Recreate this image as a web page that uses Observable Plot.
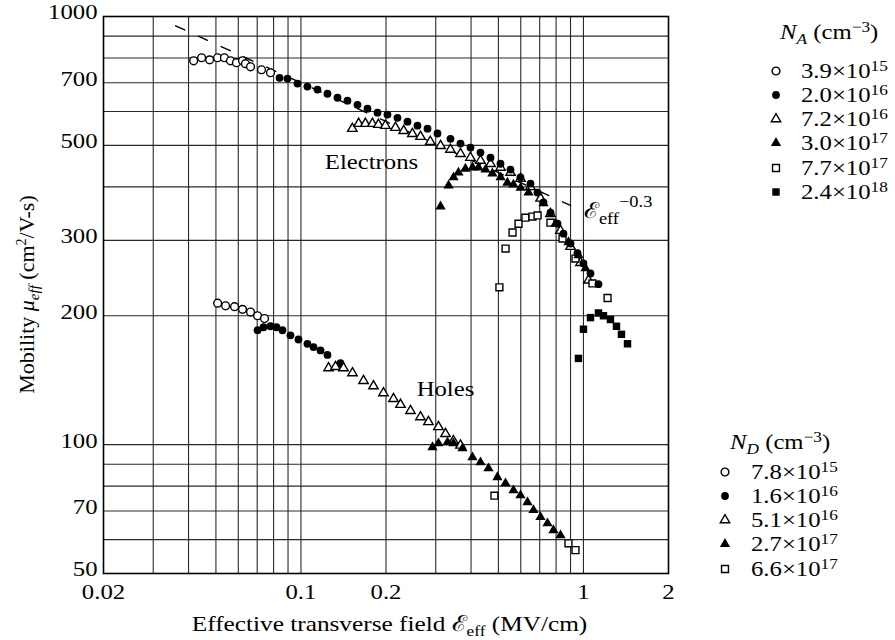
<!DOCTYPE html>
<html><head><meta charset="utf-8">
<script src="https://cdn.jsdelivr.net/npm/d3@7"></script>
<script src="https://cdn.jsdelivr.net/npm/@observablehq/plot@0.6"></script>
<style>
body{margin:0;background:#fff;}
#wrap{position:relative;width:895px;height:640px;font-family:"Liberation Serif",serif;color:#000;}
.lg{position:absolute;font-size:21.5px;line-height:24px;white-space:nowrap;transform:scaleX(1.15);transform-origin:0 50%;}
.lg sup{font-size:15px;vertical-align:7px;line-height:0;}
.lg sub{font-size:15px;vertical-align:-5px;line-height:0;}
.sym{position:absolute;}
</style></head><body><div id="wrap"></div>
<script>
// ---------- data ----------
const xGrid = [0.03,0.04,0.05,0.06,0.07,0.08,0.09,0.1,0.2,0.3,0.4,0.5,0.6,0.7,0.8,0.9,1];
const yGrid = [60,70,80,90,100,200,300,400,500,600,700,800,900];
const xTickLabels = [0.02,0.1,0.2,1,2];
const yTickLabels = [50,70,100,200,300,500,700,1000];

// Electrons
const eNA39e15 = [[0.0417,788],[0.0445,801],[0.0475,792],[0.0507,801],[0.0536,801],[0.0563,788],[0.0591,780],[0.0621,788],[0.0636,776],[0.0663,763],[0.0725,751],[0.078,739]];
const eNA20e16 = [[0.084,719],[0.0896,716],[0.0972,697],[0.1054,686],[0.1144,675],[0.1241,660],[0.1347,646],[0.1461,636],[0.1585,622],[0.172,609],[0.1866,596],[0.2024,590],[0.2196,580],[0.2383,568],[0.2585,556],[0.2805,547],[0.3043,533],[0.3383,518],[0.367,505],[0.3982,494],[0.432,481],[0.4687,468],[0.5085,453],[0.5517,439],[0.5985,421],[0.6494,407],[0.6876,388],[0.7219,368],[0.7644,348],[0.8093,328],[0.8498,311],[0.8997,295],[0.9526,280],[1.0,265],[1.059,251],[1.13,237]];
const eNA72e16 = [[0.152,547],[0.160,562],[0.169,562],[0.179,562],[0.188,559],[0.199,556],[0.216,550],[0.231,541],[0.248,532],[0.265,524],[0.287,510],[0.312,499],[0.338,489],[0.367,478],[0.398,468],[0.432,461],[0.469,453],[0.509,444],[0.552,432],[0.599,418],[0.649,400],[0.705,376],[0.764,346],[0.829,316],[0.900,290],[0.976,266],[1.042,242]];
const eNA30e17 = [[0.312,360],[0.333,403],[0.347,421],[0.361,432],[0.382,441],[0.405,444],[0.425,444],[0.450,439],[0.476,430],[0.509,421],[0.538,409],[0.565,405],[0.599,398],[0.639,388],[0.722,366],[0.796,328],[0.885,297],[0.960,277],[1.017,258]];
const eNA77e17 = [[0.504,233],[0.530,287],[0.561,313],[0.589,328],[0.623,339],[0.660,341],[0.688,343],[0.764,330],[0.843,303],[0.937,272],[1.076,238],[1.217,220]];
const eNA24e18 = [[0.960,159],[1.000,186],[1.059,198],[1.130,203],[1.177,200],[1.246,196],[1.309,189],[1.363,181],[1.432,172]];
// Holes
const hND78e15 = [[0.0507,214],[0.0541,211],[0.0582,210],[0.0621,207],[0.0663,204],[0.0702,200],[0.0743,197]];
const hND16e16 = [[0.0702,185],[0.0737,188],[0.0780,189],[0.0819,188],[0.0860,185],[0.0918,180],[0.0980,176],[0.1054,172],[0.1108,169],[0.1173,166],[0.1241,162],[0.1380,155]];
const hND51e16 = [[0.1252,151],[0.1325,152],[0.1414,151],[0.1522,147],[0.1665,141],[0.1806,137],[0.1959,132],[0.2126,128],[0.2251,124],[0.2442,120],[0.2649,116],[0.2827,113],[0.3067,110],[0.3248,106],[0.3466,102],[0.3670,99.6]];
const hND27e17 = [[0.2921,98.6],[0.3067,100.7],[0.3302,101.2],[0.3466,100.7],[0.3731,98],[0.4048,93.4],[0.4320,90.9],[0.4611,88],[0.4961,83.9],[0.5297,81.2],[0.5652,78.2],[0.5985,76.1],[0.6338,73.3],[0.6654,70.3],[0.7046,67.7],[0.7459,65.5],[0.7831,63.1],[0.8293,61.4]];
const hND66e17 = [[0.484,76],[0.885,58.8],[0.937,56.7]];

// reference power-law line (E_eff^-0.3), endpoints
const slopeLine = [[0.036,951],[0.9,362]];

// legend texts
const naMant = ["3.9","2.0","7.2","3.0","7.7","2.4"];
const naExp  = ["15","16","16","17","17","18"];
const ndMant = ["7.8","1.6","5.1","2.7","6.6"];
const ndExp  = ["15","16","16","17","17"];
const markerKinds = ["oc","fc","ot","ft","os","fs"];

const annotations = [
  {x:0.1777, y:456, text:"Electrons"},
  {x:0.3248, y:135, text:"Holes"}
];

// ---------- styles ----------
const STRETCH = 1.15;
const kindStyle = {
  oc:{symbol:"circle",  r:3.9, fill:"white", stroke:"black"},
  fc:{symbol:"circle",  r:3.9, fill:"black", stroke:"none"},
  ot:{symbol:"triangle",r:3.5, fill:"white", stroke:"black"},
  ft:{symbol:"triangle",r:3.8, fill:"black", stroke:"none"},
  os:{symbol:"square",  r:3.9, fill:"white", stroke:"black"},
  fs:{symbol:"square",  r:4.2, fill:"black", stroke:"none"}
};
function dots(data, kind){
  const s = kindStyle[kind];
  return Plot.dot(data, {x:d=>d[0], y:d=>d[1], symbol:s.symbol, r:s.r, fill:s.fill, stroke:s.stroke, strokeWidth:1.4});
}

const FONT = "Liberation Serif, serif";
const chart = Plot.plot({
  width: 895, height: 640,
  marginLeft: 103, marginRight: 227, marginTop: 16, marginBottom: 67,
  style: {fontFamily: FONT, fontSize: "21.5px", background: "white", color: "black"},
  x: {type: "log", domain: [0.02, 2]},
  y: {type: "log", domain: [50, 1000]},
  marks: [
    Plot.gridX(xGrid, {stroke: "#1e1e1e", strokeOpacity: 0.95, strokeWidth: 1.1}),
    Plot.gridY(yGrid, {stroke: "#1e1e1e", strokeOpacity: 0.95, strokeWidth: 1.1}),
    Plot.axisX(xTickLabels, {tickSize: 0, tickPadding: 10, tickFormat: d => String(d), label: null, fontSize: 21.5}),
    Plot.axisY(yTickLabels, {tickSize: 0, tickPadding: 6, dy: -4, tickFormat: d => String(d), label: null, fontSize: 21.5}),
    Plot.line(slopeLine, {x: d => d[0], y: d => d[1], stroke: "black", strokeWidth: 1.4, strokeDasharray: "10,15"}),
    Plot.text(annotations, {x: "x", y: "y", text: "text", fontSize: 21.5, fill: "black"}),
    dots(eNA72e16, "ot"),
    dots(eNA77e17, "os"),
    dots(eNA30e17, "ft"),
    dots(eNA20e16, "fc"),
    dots(eNA39e15, "oc"),
    dots(eNA24e18, "fs"),
    dots(hND78e15, "oc"),
    dots(hND16e16, "fc"),
    dots(hND51e16, "ot"),
    dots(hND27e17, "ft"),
    dots(hND66e17, "os"),
    Plot.frame({stroke: "black", strokeWidth: 1.6})
  ]
});
document.getElementById("wrap").appendChild(chart);

// the reference's lettering is slightly wider than it is tall: widen horizontal texts about their anchor
function widen(el){
  const xa = el.getAttribute("x");
  const x = (xa && /^-?[\d.]+$/.test(xa)) ? +xa : 0;
  const t = el.getAttribute("transform") || "";
  el.setAttribute("transform", `${t} translate(${x},0) scale(${STRETCH},1) translate(${-x},0)`);
}
chart.querySelectorAll("text").forEach(widen);

// ---------- axis titles & slope label ----------
const svg = d3.select(chart);
const xs = chart.scale("x"), ys = chart.scale("y");
const xt = svg.append("text").attr("x", (xs.apply(0.02)+xs.apply(2))/2 + 4).attr("y", 631)
  .attr("text-anchor", "middle").attr("font-size", 22).attr("fill", "black");
xt.append("tspan").text("Effective transverse field ");
xt.append("tspan").text("\u2130");
xt.append("tspan").attr("font-size", 15).attr("dy", 5).text("eff");
xt.append("tspan").attr("dy", -5).text(" (MV/cm)");
widen(xt.node());

const yt = svg.append("text")
  .attr("transform", `translate(34,${(ys.apply(50)+ys.apply(1000))/2}) rotate(-90)`)
  .attr("text-anchor", "middle").attr("font-size", 22).attr("fill", "black");
yt.append("tspan").text("Mobility ");
yt.append("tspan").attr("font-style", "italic").text("\u03BC");
yt.append("tspan").attr("font-style", "italic").attr("font-size", 15).attr("dy", 5).text("eff");
yt.append("tspan").attr("dy", -5).text(" (cm");
yt.append("tspan").attr("font-size", 14).attr("dy", -8).text("2");
yt.append("tspan").attr("dy", 8).text("/V-s)");

const st = svg.append("text").attr("x", xs.apply(1.0) + 1).attr("y", ys.apply(338))
  .attr("text-anchor", "start").attr("font-size", 22).attr("fill", "black");
st.append("tspan").text("\u2130");
st.append("tspan").attr("font-size", 16).attr("dy", 6).text("eff");
st.append("tspan").attr("font-size", 16).attr("dy", -17).text("\u22120.3");
widen(st.node());

// ---------- legends ----------
const wrap = document.getElementById("wrap");
function symSvg(kind){
  const s = kindStyle[kind];
  const typ = {circle: d3.symbolCircle, triangle: d3.symbolTriangle, square: d3.symbolSquare}[s.symbol];
  const p = d3.symbol(typ, Math.PI * s.r * s.r)();
  return `<svg width="14" height="14" viewBox="-7 -7 14 14"><path d="${p}" fill="${s.fill}" stroke="${s.stroke}" stroke-width="1.4"/></svg>`;
}
function legend(titleHtml, titleLeft, titleTop, mants, exps, symX, textX, firstRow){
  const t = document.createElement("div");
  t.className = "lg"; t.style.left = titleLeft + "px"; t.style.top = titleTop + "px";
  t.innerHTML = titleHtml; wrap.appendChild(t);
  mants.forEach((m, i) => {
    const cy = firstRow + i * 24.2;
    const s = document.createElement("div");
    s.className = "sym"; s.style.left = (symX - 7) + "px"; s.style.top = (cy - 7) + "px";
    s.innerHTML = symSvg(markerKinds[i]); wrap.appendChild(s);
    const r = document.createElement("div");
    r.className = "lg"; r.style.left = textX + "px"; r.style.top = (cy - 12) + "px";
    r.innerHTML = `${m}\u00D710<sup>${exps[i]}</sup>`; wrap.appendChild(r);
  });
}
legend(`<i>N</i><sub><i>A</i></sub> (cm<sup>\u22123</sup>)`, 780, 20, naMant, naExp, 776, 801, 70.7);
legend(`<i>N</i><sub><i>D</i></sub> (cm<sup>\u22123</sup>)`, 730, 430, ndMant, ndExp, 725, 751, 471.7);
</script></body></html>
